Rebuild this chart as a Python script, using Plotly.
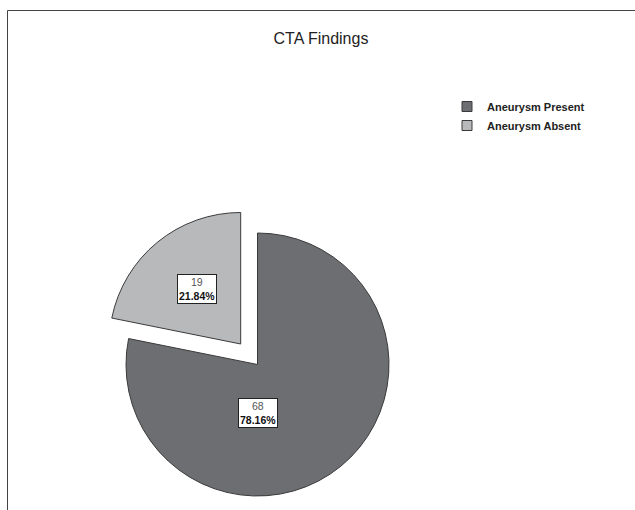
import plotly.graph_objects as go

# ---- data ----
labels = ["Aneurysm Present", "Aneurysm Absent"]
counts = [68, 19]
colors = ["#6d6e71", "#b8b9bb"]
title_text = "CTA Findings"

total = sum(counts)
pcts = [c / total * 100 for c in counts]

W, H = 635, 510
EDGE = "#3a3a3a"
CLEAR = "rgba(0,0,0,0)"

def px_dom(cx, cy, r):
    return dict(x=[(cx - r) / W, (cx + r) / W],
                y=[(H - cy - r) / H, (H - cy + r) / H])

R = 131.5
center_main = (257.5, 364.5)
center_pulled = (240.7, 344.0)

fig = go.Figure()

# main pie: only the large slice is visible
fig.add_trace(go.Pie(
    labels=labels, values=counts, sort=False, direction="clockwise", rotation=0,
    marker=dict(colors=[colors[0], CLEAR],
                line=dict(color=[EDGE, CLEAR], width=[1, 0])),
    textinfo="none", hoverinfo="skip", showlegend=False,
    domain=px_dom(*center_main, R),
))
# exploded small slice
fig.add_trace(go.Pie(
    labels=labels, values=counts, sort=False, direction="clockwise", rotation=0,
    marker=dict(colors=[CLEAR, colors[1]],
                line=dict(color=[CLEAR, EDGE], width=[0, 1])),
    textinfo="none", hoverinfo="skip", showlegend=False,
    domain=px_dom(*center_pulled, R),
))

# legend entries
for lab, col in zip(labels, colors):
    fig.add_trace(go.Scatter(
        x=[None], y=[None], mode="markers", name=lab,
        marker=dict(symbol="square", size=10, color=col, line=dict(color=EDGE, width=1)),
        hoverinfo="skip",
    ))

# value labels in boxes
label_pos = [(257.5, 413.0), (196.7, 288.5)]
for (lx, ly), c, p in zip(label_pos, counts, pcts):
    fig.add_annotation(
        x=lx / W, y=1 - ly / H, xref="paper", yref="paper",
        text=f"<span style='color:#555'>{c}</span><br><b>{p:.2f}%</b>",
        showarrow=False, font=dict(family="Arial, Liberation Sans, sans-serif", size=10.5, color="#111"),
        bgcolor="white", bordercolor="#222", borderwidth=1, borderpad=1,
        align="center", xanchor="center", yanchor="middle",
    )

# outer frame
fig.add_shape(type="rect", xref="paper", yref="paper",
              x0=7.5 / W, x1=1.05, y0=-0.05, y1=1 - 10.5 / H,
              line=dict(color="#444", width=1), fillcolor=CLEAR, layer="below")

fig.update_layout(
    width=W, height=H,
    margin=dict(l=0, r=0, t=0, b=0),
    paper_bgcolor="white", plot_bgcolor="white",
    title=dict(text=title_text, x=321 / W, y=1 - 38 / H, xanchor="center", yanchor="middle",
               font=dict(family="Arial, Liberation Sans, sans-serif", size=16, color="#222")),
    xaxis=dict(visible=False), yaxis=dict(visible=False),
    legend=dict(x=447 / W, y=1 - 92 / H, xanchor="left", yanchor="top",
                bgcolor=CLEAR, borderwidth=0, tracegroupgap=0,
                font=dict(family="Arial, Liberation Sans, sans-serif", size=11, color="#222", weight="bold")),
    showlegend=True,
)

fig.write_html("out.html")
